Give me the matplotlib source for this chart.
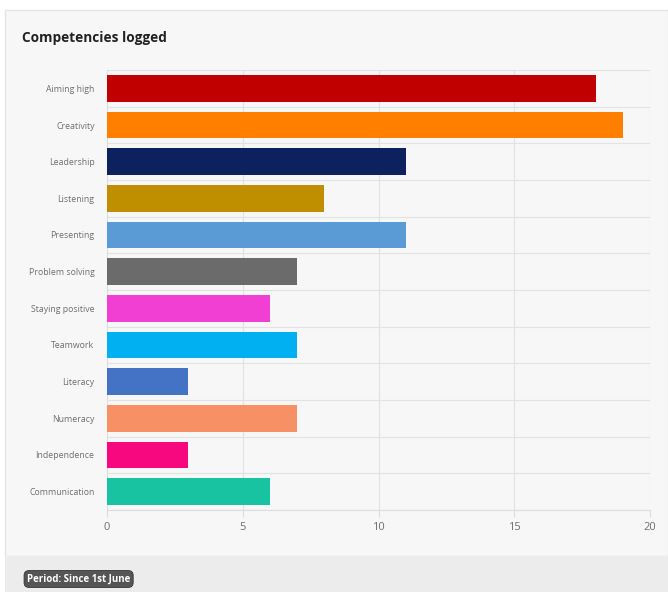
import matplotlib.pyplot as plt
from matplotlib.patches import Rectangle

# data
categories = ["Aiming high", "Creativity", "Leadership", "Listening", "Presenting",
              "Problem solving", "Staying positive", "Teamwork", "Literacy",
              "Numeracy", "Independence", "Communication"]
counts = [18, 19, 11, 8, 11, 7, 6, 7, 3, 7, 3, 6]
bar_colors = ["#c00000", "#ff7f00", "#0c215e", "#bf8f00", "#5b9bd5", "#6b6b6b",
              "#f23fd3", "#00b0f0", "#4472c4", "#f79064", "#f7087e", "#17c3a0"]
x_ticks = [0, 5, 10, 15, 20]

plt.rcParams['font.family'] = ['Open Sans', 'DejaVu Sans']

W, H = 668, 592
fig = plt.figure(figsize=(W / 100, H / 100), dpi=100, facecolor="white")

# panel backgrounds (figure pixel coords -> fraction)
def px_rect(x0, y0, x1, y1, **kw):
    return Rectangle((x0 / W, 1 - y1 / H), (x1 - x0) / W, (y1 - y0) / H,
                     transform=fig.transFigure, zorder=-5, **kw)

fig.patches.append(px_rect(5, 10, 668, 556, facecolor="#f7f7f7", edgecolor="#e4e4e4", lw=1))
fig.patches.append(px_rect(5, 556, 668, 592, facecolor="#ececec", edgecolor="none"))

fig.text(22 / W, 1 - 38 / H, "Competencies logged", fontsize=9.8, fontweight="bold",
         color="#222222", va="center", ha="left")

# footer badge
fig.text(27 / W, 1 - 579 / H, "Period: Since 1st June", fontsize=7, fontweight="bold",
         color="white", va="center", ha="left",
         bbox=dict(boxstyle="round,pad=0.3,rounding_size=0.5", facecolor="#555555",
                   edgecolor="#333333", lw=0.6))

ax = fig.add_axes([107 / W, 1 - 510 / H, (650 - 107) / W, (510 - 70) / H])
ax.set_facecolor("#f7f7f7")

y_pos = list(range(len(categories)))
ax.barh(y_pos, counts, height=0.72, color=bar_colors, zorder=3)

ax.set_ylim(len(categories) - 0.5, -0.5)
ax.set_xlim(0, 20)
ax.set_xticks(x_ticks)
ax.set_xticklabels([str(t) for t in x_ticks])
ax.set_yticks(y_pos)
ax.set_yticklabels(categories)

# grid: vertical at ticks, horizontal between categories
for t in x_ticks[1:]:
    ax.axvline(t, color="#e2e2e2", lw=0.8, zorder=1)
for b in range(len(categories) + 1):
    ax.axhline(b - 0.5, color="#e2e2e2", lw=0.8, zorder=1)

for s in ["top", "right"]:
    ax.spines[s].set_visible(False)
ax.spines["left"].set_color("#dddddd")
ax.spines["bottom"].set_color("#dddddd")

ax.tick_params(axis="y", labelsize=6.3, labelcolor="#6e6e6e", length=0, pad=9)
ax.tick_params(axis="x", labelsize=8, labelcolor="#6e6e6e", length=5, color="#dddddd", pad=4)

fig.savefig("out.png", dpi=100, facecolor="white")
